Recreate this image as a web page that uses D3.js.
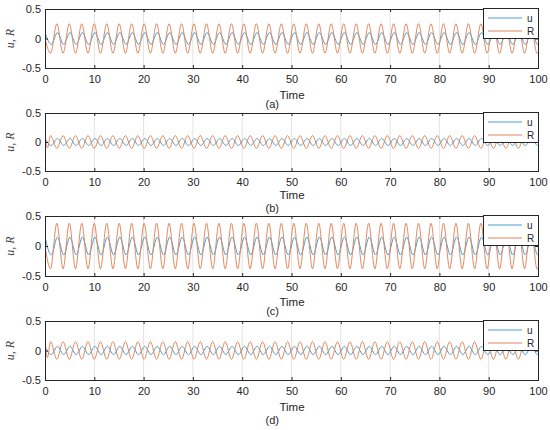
<!DOCTYPE html>
<html>
<head>
<meta charset="utf-8">
<script src="https://cdn.jsdelivr.net/npm/d3@7"></script>
<style>
  body { margin: 0; background: #fff; }
  text { font-family: "Liberation Sans", Arial, sans-serif; fill: #262626; }
</style>
</head>
<body>
<svg id="chart" width="550" height="430"></svg>
<script>
// tick labels and names
const xTicks = [0, 10, 20, 30, 40, 50, 60, 70, 80, 90, 100];
const yTicks = [-0.5, 0, 0.5];
const panelLabels = ["(a)", "(b)", "(c)", "(d)"];
const seriesNames = ["u", "R"];

// times of the turning points of u
const uTime = [0, 1.27, 2.53, 3.8, 5.06, 6.33, 7.59, 8.86, 10.12, 11.39, 12.65, 13.92, 15.18, 16.45, 17.71, 18.98,
  20.24, 21.51, 22.77, 24.04, 25.3, 26.57, 27.83, 29.1, 30.36, 31.63, 32.89, 34.16, 35.42, 36.69, 37.95, 39.22,
  40.48, 41.75, 43.01, 44.28, 45.54, 46.81, 48.07, 49.34, 50.6, 51.87, 53.13, 54.4, 55.66, 56.93, 58.19, 59.46,
  60.72, 61.99, 63.25, 64.52, 65.78, 67.05, 68.31, 69.58, 70.84, 72.11, 73.37, 74.64, 75.9, 77.17, 78.43, 79.7,
  80.96, 82.23, 83.49, 84.76, 86.02, 87.29, 88.55, 89.82, 91.08, 92.35, 93.61, 94.88, 96.14, 97.41, 98.67, 99.94, 100];

// times of the turning points of R, panels (a) and (c)
const rTimeAC = [0, 1.13, 2.4, 3.66, 4.93, 6.19, 7.46, 8.72, 9.99, 11.25, 12.52, 13.78, 15.05, 16.31, 17.58, 18.84,
  20.11, 21.37, 22.64, 23.9, 25.17, 26.43, 27.7, 28.96, 30.23, 31.49, 32.76, 34.02, 35.29, 36.55, 37.82, 39.08,
  40.35, 41.61, 42.88, 44.14, 45.41, 46.67, 47.94, 49.2, 50.47, 51.73, 53, 54.26, 55.53, 56.79, 58.06, 59.32,
  60.59, 61.85, 63.12, 64.38, 65.65, 66.91, 68.18, 69.44, 70.71, 71.97, 73.24, 74.5, 75.77, 77.03, 78.3, 79.56,
  80.83, 82.09, 83.36, 84.62, 85.89, 87.15, 88.42, 89.68, 90.95, 92.21, 93.48, 94.74, 96.01, 97.27, 98.54, 99.8, 100];

// times of the turning points of R, panels (b) and (d)
const rTimeBD = [0, 0.5, 1.13, 2.4, 3.66, 4.93, 6.19, 7.46, 8.72, 9.99, 11.25, 12.52, 13.78, 15.05, 16.31, 17.58, 18.84,
  20.11, 21.37, 22.64, 23.9, 25.17, 26.43, 27.7, 28.96, 30.23, 31.49, 32.76, 34.02, 35.29, 36.55, 37.82, 39.08,
  40.35, 41.61, 42.88, 44.14, 45.41, 46.67, 47.94, 49.2, 50.47, 51.73, 53, 54.26, 55.53, 56.79, 58.06, 59.32,
  60.59, 61.85, 63.12, 64.38, 65.65, 66.91, 68.18, 69.44, 70.71, 71.97, 73.24, 74.5, 75.77, 77.03, 78.3, 79.56,
  80.83, 82.09, 83.36, 84.62, 85.89, 87.15, 88.42, 89.68, 90.95, 92.21, 93.48, 94.74, 96.01, 97.27, 98.54, 99.8, 100];

// panel (a)
const uA = [0.1, -0.1, 0.1, -0.1, 0.1, -0.1, 0.1, -0.1, 0.1, -0.1, 0.1, -0.1, 0.1, -0.1, 0.1, -0.1, 0.1, -0.1, 0.1, -0.1,
  0.1, -0.1, 0.1, -0.1, 0.1, -0.1, 0.1, -0.1, 0.1, -0.1, 0.1, -0.1, 0.1, -0.1, 0.1, -0.1, 0.1, -0.1, 0.1, -0.1,
  0.1, -0.1, 0.1, -0.1, 0.1, -0.1, 0.1, -0.1, 0.1, -0.1, 0.1, -0.1, 0.1, -0.1, 0.1, -0.1, 0.1, -0.1, 0.1, -0.1,
  0.1, -0.1, 0.1, -0.1, 0.1, -0.1, 0.1, -0.1, 0.1, -0.1, 0.1, -0.1, 0.1, -0.1, 0.1, -0.1, 0.1, -0.1, 0.1, -0.1,
  -0.1];
const rA = [0,
  -0.25, 0.25, -0.25, 0.25, -0.25, 0.25, -0.25, 0.25, -0.25, 0.25, -0.25, 0.25, -0.25, 0.25, -0.25, 0.25, -0.25, 0.25, -0.25, 0.25,
  -0.25, 0.25, -0.25, 0.25, -0.25, 0.25, -0.25, 0.25, -0.25, 0.25, -0.25, 0.25, -0.25, 0.25, -0.25, 0.25, -0.25, 0.25, -0.25, 0.25,
  -0.25, 0.25, -0.25, 0.25, -0.25, 0.25, -0.25, 0.25, -0.25, 0.25, -0.25, 0.25, -0.25, 0.25, -0.25, 0.25, -0.25, 0.25, -0.25, 0.25,
  -0.25, 0.25, -0.25, 0.25, -0.25, 0.25, -0.25, 0.25, -0.25, 0.25, -0.25, 0.25, -0.25, 0.25, -0.25, 0.25, -0.25, 0.25,
  -0.25, -0.25];

// panel (b)
const uB = [0.06, -0.06, 0.06, -0.06, 0.06, -0.06, 0.06, -0.06, 0.06, -0.06, 0.06, -0.06, 0.06, -0.06, 0.06, -0.06, 0.06, -0.06, 0.06, -0.06,
  0.06, -0.06, 0.06, -0.06, 0.06, -0.06, 0.06, -0.06, 0.06, -0.06, 0.06, -0.06, 0.06, -0.06, 0.06, -0.06, 0.06, -0.06, 0.06, -0.06,
  0.06, -0.06, 0.06, -0.06, 0.06, -0.06, 0.06, -0.06, 0.06, -0.06, 0.06, -0.06, 0.06, -0.06, 0.06, -0.06, 0.06, -0.06, 0.06, -0.06,
  0.06, -0.06, 0.06, -0.06, 0.06, -0.06, 0.06, -0.06, 0.06, -0.06, 0.06, -0.06, 0.06, -0.06, 0.06, -0.06, 0.06, -0.06, 0.06, -0.06,
  -0.06];
const rB = [0.09, -0.1,
  0.11, -0.11, 0.11, -0.11, 0.11, -0.11, 0.11, -0.11, 0.11, -0.11, 0.11, -0.11, 0.11, -0.11, 0.11, -0.11, 0.11, -0.11,
  0.11, -0.11, 0.11, -0.11, 0.11, -0.11, 0.11, -0.11, 0.11, -0.11, 0.11, -0.11, 0.11, -0.11, 0.11, -0.11, 0.11, -0.11, 0.11, -0.11,
  0.11, -0.11, 0.11, -0.11, 0.11, -0.11, 0.11, -0.11, 0.11, -0.11, 0.11, -0.11, 0.11, -0.11, 0.11, -0.11, 0.11, -0.11, 0.11, -0.11,
  0.11, -0.11, 0.11, -0.11, 0.11, -0.11, 0.11, -0.11, 0.11, -0.11, 0.11, -0.11, 0.11, -0.11, 0.11, -0.11, 0.11, -0.11,
  0.11, 0.11];

// panel (c)
const uC = [0.15, -0.15, 0.15, -0.15, 0.15, -0.15, 0.15, -0.15, 0.15, -0.15, 0.15, -0.15, 0.15, -0.15, 0.15, -0.15, 0.15, -0.15, 0.15, -0.15,
  0.15, -0.15, 0.15, -0.15, 0.15, -0.15, 0.15, -0.15, 0.15, -0.15, 0.15, -0.15, 0.15, -0.15, 0.15, -0.15, 0.15, -0.15, 0.15, -0.15,
  0.15, -0.15, 0.15, -0.15, 0.15, -0.15, 0.15, -0.15, 0.15, -0.15, 0.15, -0.15, 0.15, -0.15, 0.15, -0.15, 0.15, -0.15, 0.15, -0.15,
  0.15, -0.15, 0.15, -0.15, 0.15, -0.15, 0.15, -0.15, 0.15, -0.15, 0.15, -0.15, 0.15, -0.15, 0.15, -0.15, 0.15, -0.15, 0.15, -0.15,
  -0.15];
const rC = [0,
  -0.38, 0.38, -0.38, 0.38, -0.38, 0.38, -0.38, 0.38, -0.38, 0.38, -0.38, 0.38, -0.38, 0.38, -0.38, 0.38, -0.38, 0.38, -0.38, 0.38,
  -0.38, 0.38, -0.38, 0.38, -0.38, 0.38, -0.38, 0.38, -0.38, 0.38, -0.38, 0.38, -0.38, 0.38, -0.38, 0.38, -0.38, 0.38, -0.38, 0.38,
  -0.38, 0.38, -0.38, 0.38, -0.38, 0.38, -0.38, 0.38, -0.38, 0.38, -0.38, 0.38, -0.38, 0.38, -0.38, 0.38, -0.38, 0.38, -0.38, 0.38,
  -0.38, 0.38, -0.38, 0.38, -0.38, 0.38, -0.38, 0.38, -0.38, 0.38, -0.38, 0.38, -0.38, 0.38, -0.38, 0.38, -0.38, 0.38,
  -0.38, -0.38];

// panel (d)
const uD = [0.07, -0.07, 0.07, -0.07, 0.07, -0.07, 0.07, -0.07, 0.07, -0.07, 0.07, -0.07, 0.07, -0.07, 0.07, -0.07, 0.07, -0.07, 0.07, -0.07,
  0.07, -0.07, 0.07, -0.07, 0.07, -0.07, 0.07, -0.07, 0.07, -0.07, 0.07, -0.07, 0.07, -0.07, 0.07, -0.07, 0.07, -0.07, 0.07, -0.07,
  0.07, -0.07, 0.07, -0.07, 0.07, -0.07, 0.07, -0.07, 0.07, -0.07, 0.07, -0.07, 0.07, -0.07, 0.07, -0.07, 0.07, -0.07, 0.07, -0.07,
  0.07, -0.07, 0.07, -0.07, 0.07, -0.07, 0.07, -0.07, 0.07, -0.07, 0.07, -0.07, 0.07, -0.07, 0.07, -0.07, 0.07, -0.07, 0.07, -0.07,
  -0.07];
const rD = [0.14, -0.12,
  0.15, -0.15, 0.15, -0.15, 0.15, -0.15, 0.15, -0.15, 0.15, -0.15, 0.15, -0.15, 0.15, -0.15, 0.15, -0.15, 0.15, -0.15,
  0.15, -0.15, 0.15, -0.15, 0.15, -0.15, 0.15, -0.15, 0.15, -0.15, 0.15, -0.15, 0.15, -0.15, 0.15, -0.15, 0.15, -0.15, 0.15, -0.15,
  0.15, -0.15, 0.15, -0.15, 0.15, -0.15, 0.15, -0.15, 0.15, -0.15, 0.15, -0.15, 0.15, -0.15, 0.15, -0.15, 0.15, -0.15, 0.15, -0.15,
  0.15, -0.15, 0.15, -0.15, 0.15, -0.15, 0.15, -0.15, 0.15, -0.15, 0.15, -0.15, 0.15, -0.15, 0.15, -0.15, 0.15, -0.15,
  0.15, 0.15];

const uColor = "#4a9fcf", rColor = "#e3875d";

// layout of the four stacked panels
const panels = [
  {label: panelLabels[0], u: uA, r: rA, rTime: rTimeAC, top: 9,   bottom: 68,  timeY: 99,  labY: 108},
  {label: panelLabels[1], u: uB, r: rB, rTime: rTimeBD, top: 113, bottom: 171, timeY: 199, labY: 212},
  {label: panelLabels[2], u: uC, r: rC, rTime: rTimeAC, top: 216, bottom: 276, timeY: 306, labY: 315},
  {label: panelLabels[3], u: uD, r: rD, rTime: rTimeBD, top: 321, bottom: 380, timeY: 411, labY: 424}
];

const svg = d3.select("#chart");
const x = d3.scaleLinear().domain([0, 100]).range([45, 538]);

panels.forEach((p, i) => {
  const y = d3.scaleLinear().domain([-0.5, 0.5]).range([p.bottom, p.top]);
  const g = svg.append("g");

  // vertical grid
  g.selectAll(".grid")
    .data(xTicks.slice(1, -1))
    .join("line")
      .attr("x1", d => x(d)).attr("x2", d => x(d))
      .attr("y1", p.top).attr("y2", p.bottom)
      .attr("stroke", "#e3e3e3")
      .attr("stroke-width", 1);

  svg.append("clipPath").attr("id", "clip" + i)
    .append("rect")
      .attr("x", x(0)).attr("y", p.top)
      .attr("width", x(100) - x(0)).attr("height", p.bottom - p.top);

  const line = d3.line()
      .x(d => x(d[0]))
      .y(d => y(d[1]))
      .curve(d3.curveMonotoneX);

  const lines = g.append("g").attr("clip-path", `url(#clip${i})`);
  lines.append("path")
      .datum(d3.zip(uTime, p.u))
      .attr("d", line)
      .attr("fill", "none")
      .attr("stroke", uColor)
      .attr("stroke-width", 1);
  lines.append("path")
      .datum(d3.zip(p.rTime, p.r))
      .attr("d", line)
      .attr("fill", "none")
      .attr("stroke", rColor)
      .attr("stroke-width", 1);

  // axes, MATLAB style ticks pointing inwards
  const xAxis = g.append("g")
      .attr("transform", `translate(0,${p.bottom})`)
      .call(d3.axisBottom(x).tickValues(xTicks).tickSizeInner(-3).tickSizeOuter(0).tickPadding(7.5));
  const xTop = g.append("g")
      .attr("transform", `translate(0,${p.top})`)
      .call(d3.axisTop(x).tickValues(xTicks).tickSizeInner(-3).tickSizeOuter(0).tickFormat(""));
  const yAxis = g.append("g")
      .attr("transform", `translate(${x(0)},0)`)
      .call(d3.axisLeft(y).tickValues(yTicks).tickSizeInner(-3).tickSizeOuter(0).tickPadding(4).tickFormat(d => String(d)));
  const yRight = g.append("g")
      .attr("transform", `translate(${x(100)},0)`)
      .call(d3.axisRight(y).tickValues(yTicks).tickSizeInner(-3).tickSizeOuter(0).tickFormat(""));

  [xAxis, xTop, yAxis, yRight].forEach(a => {
    a.select(".domain").remove();
    a.selectAll("line").attr("stroke", "#262626");
    a.selectAll("text").attr("font-size", 11).style("fill", "#262626");
  });

  // box
  g.append("rect")
      .attr("x", x(0)).attr("y", p.top)
      .attr("width", x(100) - x(0)).attr("height", p.bottom - p.top)
      .attr("fill", "none")
      .attr("stroke", "#262626")
      .attr("stroke-width", 1)
      .attr("shape-rendering", "crispEdges");

  // y label
  g.append("text")
      .attr("transform", `translate(14,${(p.top + p.bottom) / 2}) rotate(-90)`)
      .attr("text-anchor", "middle")
      .style("font-family", "'Liberation Serif', 'Times New Roman', serif")
      .style("font-style", "italic")
      .style("fill", "#444")
      .attr("font-size", 12)
      .text("u, R");

  // x label and panel tag
  g.append("text")
      .attr("x", 292).attr("y", p.timeY)
      .attr("text-anchor", "middle")
      .attr("font-size", 11.5)
      .text("Time");
  g.append("text")
      .attr("x", 279).attr("y", p.labY)
      .attr("text-anchor", "end")
      .attr("font-size", 11)
      .text(p.label);

  // legend
  const lg = g.append("g").attr("transform", `translate(483,${p.top - 1})`);
  lg.append("rect")
      .attr("width", 55).attr("height", 30)
      .attr("fill", "#fff")
      .attr("stroke", "#262626")
      .attr("stroke-width", 1)
      .attr("shape-rendering", "crispEdges");
  [uColor, rColor].forEach((c, j) => {
    lg.append("line")
        .attr("x1", 5).attr("x2", 39)
        .attr("y1", 10 + j * 13).attr("y2", 10 + j * 13)
        .attr("stroke", c).attr("stroke-width", 1);
    lg.append("text")
        .attr("x", 44).attr("y", 10 + j * 13 + 3.5)
        .attr("font-size", 10)
        .text(seriesNames[j]);
  });
});
</script>
</body>
</html>
